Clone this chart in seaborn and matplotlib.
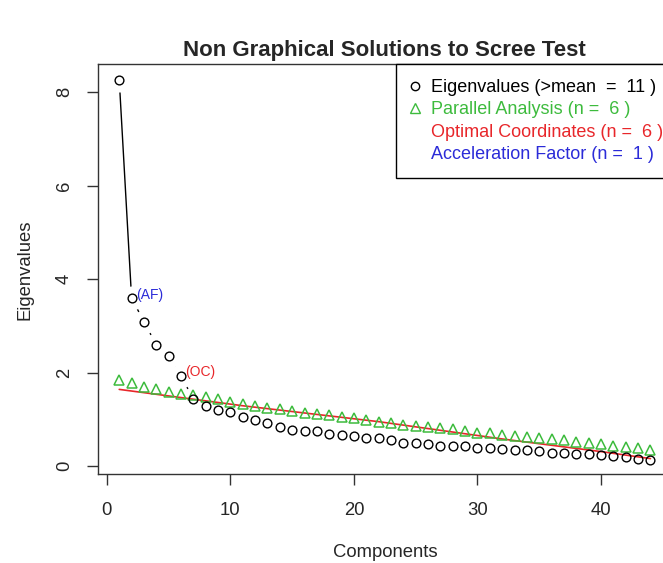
import numpy as np
import pandas as pd
import seaborn as sns
import matplotlib.pyplot as plt
from matplotlib.lines import Line2D

# values
components = list(range(1, 45))
eigenvalues = [8.26, 3.59, 3.09, 2.59, 2.35, 1.93, 1.43, 1.28, 1.20, 1.15,
               1.04, 0.98, 0.93, 0.84, 0.77, 0.76, 0.75, 0.68, 0.66, 0.64,
               0.61, 0.59, 0.55, 0.50, 0.49, 0.47, 0.44, 0.43, 0.43, 0.39,
               0.385, 0.37, 0.34, 0.34, 0.32, 0.285, 0.28, 0.26, 0.25, 0.23,
               0.21, 0.19, 0.16, 0.14]
parallel = [1.85, 1.77, 1.70, 1.65, 1.59, 1.55, 1.52, 1.47, 1.43, 1.38,
            1.33, 1.29, 1.25, 1.23, 1.18, 1.14, 1.11, 1.09, 1.05, 1.02,
            0.98, 0.95, 0.93, 0.88, 0.86, 0.83, 0.81, 0.79, 0.76, 0.71,
            0.70, 0.66, 0.65, 0.63, 0.61, 0.57, 0.56, 0.52, 0.49, 0.47,
            0.43, 0.41, 0.39, 0.34]
oc_x = [1, 11, 22, 32, 40, 44]
oc_y = [1.64, 1.29, 0.95, 0.58, 0.31, 0.16]
af_comp = 2
oc_comp = 6

legend_labels = ["Eigenvalues (>mean  =  11 )",
                 "Parallel Analysis (n =  6 )",
                 "Optimal Coordinates (n =  6 )",
                 "Acceleration Factor (n =  1 )"]
x_ticks = [0, 10, 20, 30, 40]
y_ticks = [0, 2, 4, 6, 8]

GREEN = "#3dbb3d"
RED = "#e8262a"
BLUE = "#2b2bd8"

sns.set_theme(style="ticks")
plt.rcParams['font.family'] = ['Liberation Sans', 'DejaVu Sans']

df = pd.DataFrame({'comp': components, 'eig': eigenvalues, 'par': parallel})

fig = plt.figure(figsize=(6.63, 5.63), dpi=100)
# the R plot region runs past the right edge of the picture
ax = fig.add_axes([0.1478, 0.1572, 0.8653, 0.7284])

# eigenvalue line, broken around each point like R's type="b"
sns.lineplot(data=df, x='comp', y='eig', color='black', lw=1, ax=ax, zorder=1)
sns.scatterplot(data=df, x='comp', y='eig', s=300, color='white', linewidth=0, ax=ax, zorder=2)

sns.lineplot(x=oc_x, y=oc_y, color=RED, lw=1.2, ax=ax, zorder=3)
sns.lineplot(data=df, x='comp', y='par', marker='^', markersize=7.8, linestyle='none',
             markerfacecolor='none', markeredgecolor=GREEN, markeredgewidth=1.1, ax=ax, zorder=4)
sns.lineplot(data=df, x='comp', y='eig', marker='o', markersize=6.3, linestyle='none',
             markerfacecolor='none', markeredgecolor='black', markeredgewidth=1.0, ax=ax, zorder=5)

ax.annotate('(AF)', (af_comp, eigenvalues[af_comp - 1]), xytext=(3, 2), textcoords='offset points',
            color=BLUE, fontsize=10, ha='left', va='center')
ax.annotate('(OC)', (oc_comp, eigenvalues[oc_comp - 1]), xytext=(3, 3), textcoords='offset points',
            color=RED, fontsize=10, ha='left', va='center')

ax.set_xlim(-0.72, 45.72)
ax.set_ylim(-0.18, 8.59)
ax.set_xticks(x_ticks)
ax.set_yticks(y_ticks)
ax.tick_params(axis='both', length=8, width=1, color='#333333', labelsize=13.3, pad=10)
ax.tick_params(axis='x', pad=11.5)
ax.tick_params(axis='y', labelrotation=90)
for lab in ax.get_yticklabels():
    lab.set_va('center')
for sp in ax.spines.values():
    sp.set_visible(True)
    sp.set_color('#333333')
    sp.set_linewidth(1)

ax.set_title("Non Graphical Solutions to Scree Test", fontsize=16, fontweight='bold', pad=6)
ax.set_xlabel("Components", fontsize=13.3, labelpad=18.5)
ax.set_ylabel("Eigenvalues", fontsize=13.3, labelpad=16)

handles = [Line2D([], [], marker='o', ls='', mfc='none', mec='black', ms=6, mew=1),
           Line2D([], [], marker='^', ls='', mfc='none', mec=GREEN, ms=7, mew=1),
           Line2D([], [], ls=''),
           Line2D([], [], ls='')]
leg = ax.legend(handles, legend_labels, loc='upper left', bbox_to_anchor=(0.5195, 1.0),
                frameon=True, fancybox=False, edgecolor='black', framealpha=1,
                labelcolor=['black', GREEN, RED, BLUE], fontsize=13,
                handlelength=0.55, handletextpad=0.6, borderpad=0.8, labelspacing=0.3,
                borderaxespad=0)
leg.get_frame().set_linewidth(1)

fig.savefig('out.png', dpi=100)
